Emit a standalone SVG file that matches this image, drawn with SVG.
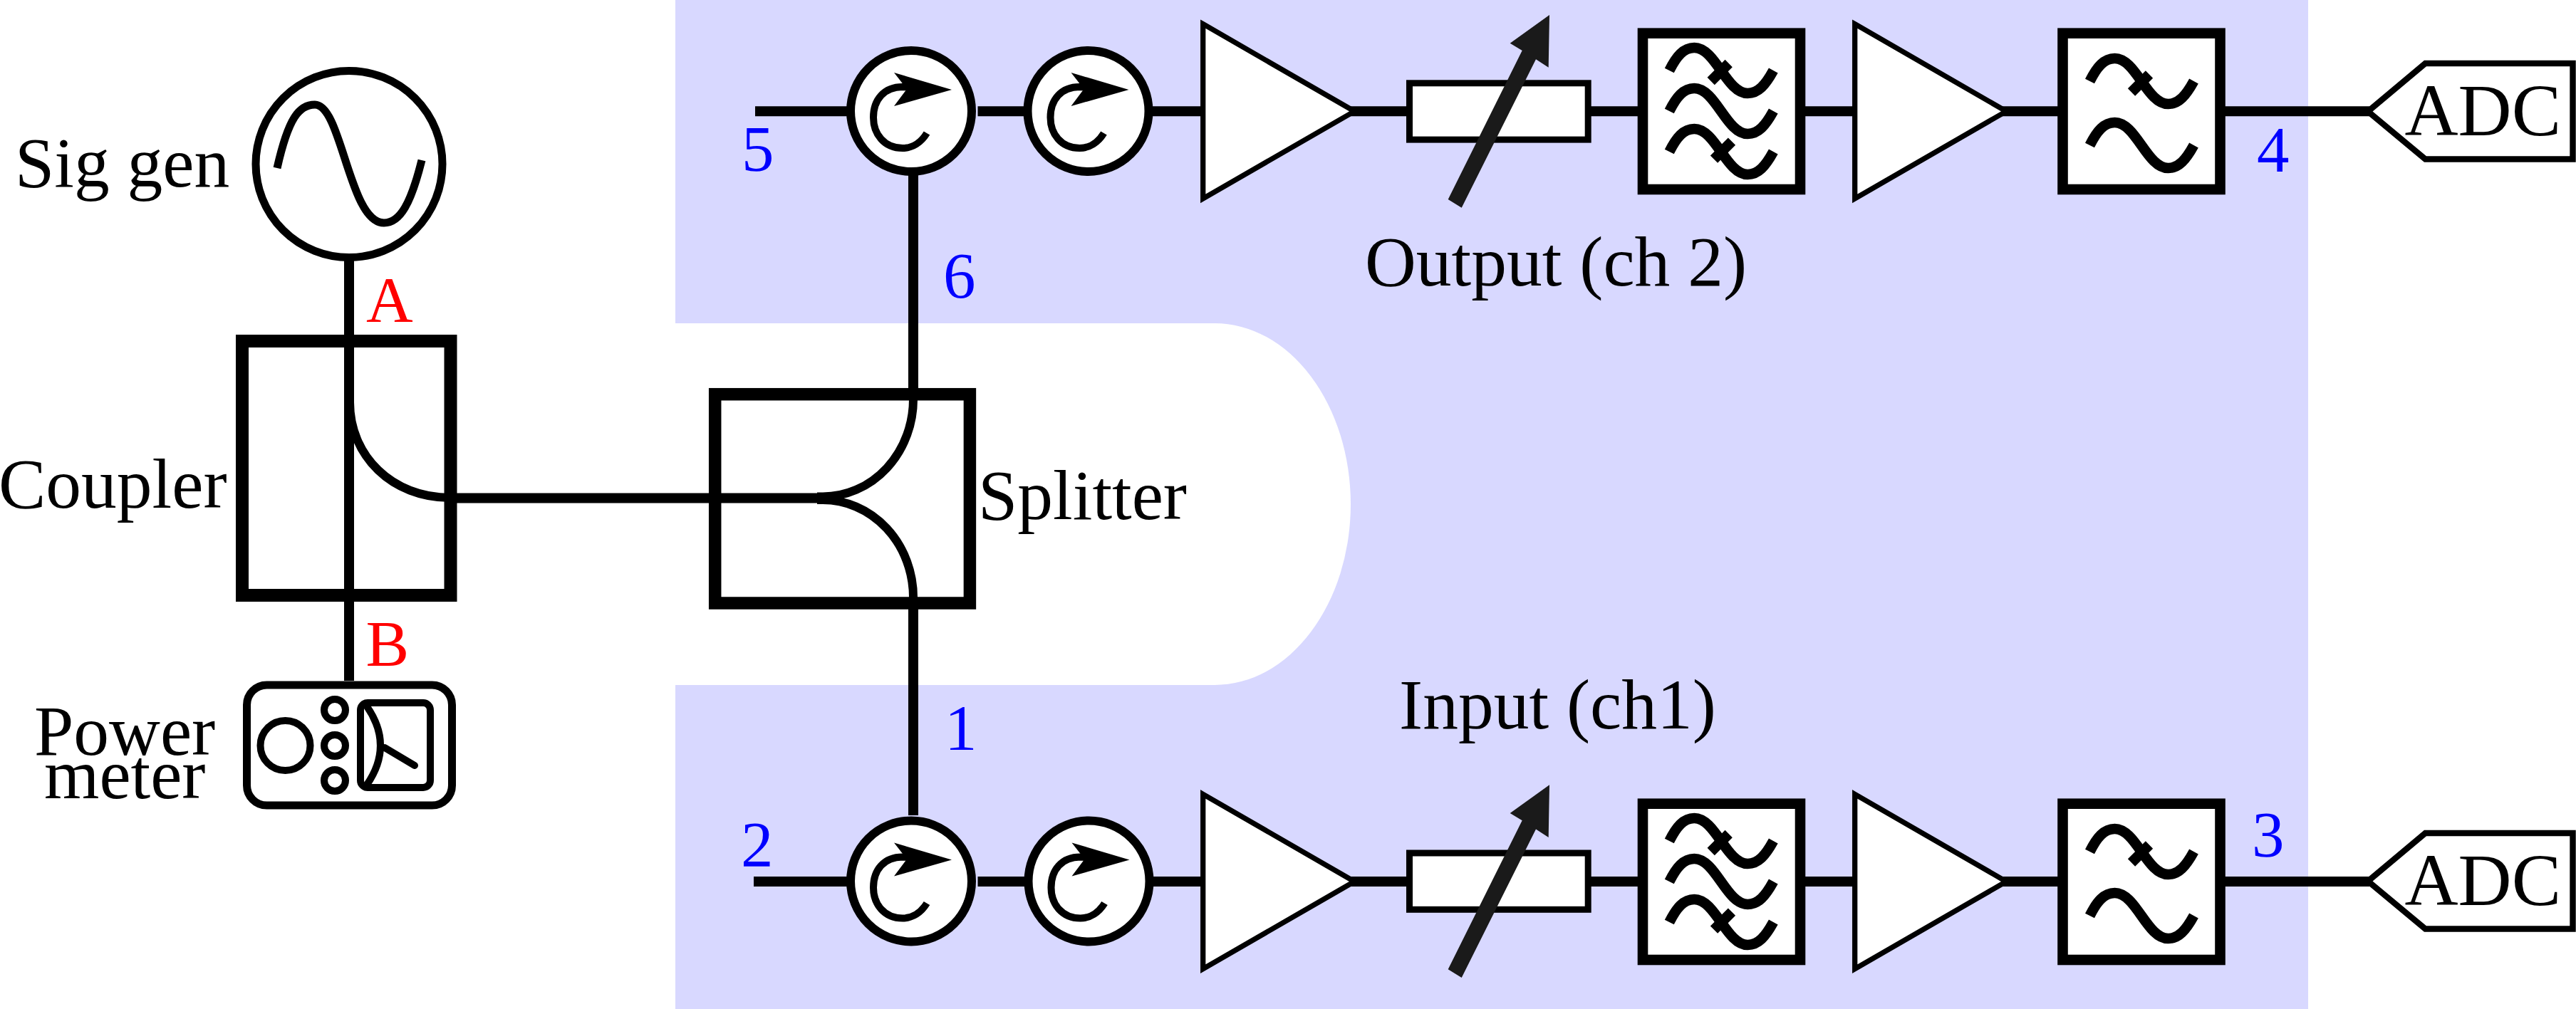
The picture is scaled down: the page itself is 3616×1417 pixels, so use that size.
<svg xmlns="http://www.w3.org/2000/svg" xmlns:xlink="http://www.w3.org/1999/xlink" width="3616" height="1417" viewBox="0 0 3616 1417">
<style>
text{font-family:"Liberation Serif","Times New Roman",serif}
.lbl{font-size:99.5px;fill:#000}
.red{font-size:91px;fill:#f00}
.blue{font-size:91px;fill:#00f}
.wire{fill:none;stroke:#000;stroke-width:14}
.curve{fill:none;stroke:#000;stroke-width:12}
.box{fill:#fff;stroke:#000}
.hollow{fill:none;stroke:#000}
.sine{fill:none;stroke:#000;stroke-width:14.5}
</style>
<defs>
<g id="circ">
<circle r="85" class="box" stroke-width="12"/>
<path d="M22 31C14 44 2 52-12 52C-38 52-53 32-53 9C-53-16-38-34-12-34L2-33" fill="none" stroke="#000" stroke-width="10"/>
<polygon points="57,-30 -24,-54 -6,-31 -24,-7"/>
</g>
<polygon id="amp" points="0,-122.6 212.6,0 0,122.6" class="box" stroke-width="7.3" stroke-miterlimit="10"/>
<g id="atten">
<rect x="4.5" y="-39.5" width="250.7" height="79.3" class="box" stroke-width="9"/>
<polygon fill="#1a1a1a" points="201,-135.3 145.7,-95.6 162.7,-85.3 58.7,123.7 77.7,135.4 182,-73 199.7,-61.6"/>
</g>
<path id="sine" class="sine" d="M0 0C10-20 20-32 35-32C65-32 80 32 110 32C125 32 135 20 146 0"/>
<g id="filter3">
<rect x="7" y="-109.3" width="221" height="219.3" class="box" stroke-width="14.6"/>
<use href="#sine" x="44.3" y="-57"/><use href="#sine" x="44.3" y="0"/><use href="#sine" x="44.3" y="57"/>
<path d="M127.7-67L102.7-42M132 42.7L107 67.7" class="sine"/>
</g>
<g id="filter2">
<rect x="7" y="-109.3" width="221" height="219.3" class="box" stroke-width="14.6"/>
<use href="#sine" x="45" y="-42"/><use href="#sine" x="45" y="48"/>
<path d="M128.5-51.5L103.5-26.5" class="sine"/>
</g>
<polygon id="adc" points="3324,156.5 3404.5,89 3611.5,89 3611.5,223.5 3404.5,223.5" class="box" stroke-width="8.4" stroke-miterlimit="10"/>
</defs>
<rect width="3616" height="1417" fill="#fff"/>
<path id="background" fill="#d8d8ff" d="M948 0H3240V1417H948V962H1705A191 254 0 0 0 1705 454H948Z"/>
<g id="connectors">
<path class="wire" d="M490 360V956M641 699.5H1147M1147 699.5H1160"/>
<path class="wire" d="M1282 240V552M1282 850V1145"/>
<path class="wire" d="M1060 156.3H1200M1372.5 156.3H1450M1600 156.3H1690M1890 156.3H1980M2230 156.3H2300M2530 156.3H2605M2805 156.3H2890M3120 156.3H3326"/>
<path class="wire" d="M1058 1238H1200M1372.5 1238H1450M1600 1238H1690M1890 1238H1980M2230 1238H2300M2530 1238H2605M2805 1238H2890M3120 1238H3326"/>
</g>
<g id="sig-gen">
<circle cx="490" cy="230.5" r="131" fill="#fff" stroke="#000" stroke-width="11"/>
<path d="M389 236C405 165 420 147 442 147C480 147 490 313 539 313C562 313 577 285 592 225" fill="none" stroke="#000" stroke-width="11"/>
<text class="lbl" x="21" y="262">Sig gen</text>
<text class="red" x="514" y="452">A</text>
</g>
<g id="coupler">
<rect x="340" y="479" width="292.5" height="357" class="hollow" stroke-width="18"/>
<path class="curve" d="M491 565C491 640 550 699 632 699"/>
<text class="lbl" x="-2" y="713">Coupler</text>
</g>
<g id="power-meter">
<rect x="346.5" y="962" width="288" height="169" rx="28" class="hollow" stroke-width="11"/>
<circle cx="400.5" cy="1047" r="35" class="hollow" stroke-width="10"/>
<circle cx="470" cy="997" r="15" class="hollow" stroke-width="10"/>
<circle cx="470" cy="1047" r="15" class="hollow" stroke-width="10"/>
<circle cx="470" cy="1096" r="15" class="hollow" stroke-width="10"/>
<rect x="506" y="987" width="98" height="119" rx="10" class="hollow" stroke-width="10"/>
<path d="M515 992Q553 1047 515 1102M540 1050L582 1075" class="hollow" stroke-width="10" stroke-linecap="round"/>
<text class="lbl" x="48" y="1060">Power</text>
<text class="lbl" x="62" y="1121">meter</text>
<text class="red" x="513.5" y="935">B</text>
</g>
<g id="splitter">
<rect x="1003.7" y="553.7" width="357.7" height="293.3" class="hollow" stroke-width="17.5"/>
<path class="curve" d="M1147 697.5H1155A127 137 0 0 0 1282 560M1147 702H1155A127 137 0 0 1 1282 839"/>
<text class="lbl" x="1373" y="729">Splitter</text>
</g>
<g id="output-chain">
<use href="#circ" x="1279" y="156"/>
<use href="#circ" x="1527.5" y="156"/>
<use href="#amp" x="1688.7" y="156.3"/>
<use href="#atten" x="1974" y="156.3"/>
<use href="#filter3" x="2299" y="156"/>
<use href="#amp" x="2603.7" y="156.3"/>
<use href="#filter2" x="2888.5" y="156"/>
<use href="#adc"/>
<text class="lbl" x="3375.5" y="190" style="font-size:104px">ADC</text>
<text class="lbl" x="1916" y="401">Output (ch 2)</text>
<text class="blue" x="1041" y="240">5</text>
<text class="blue" x="1324" y="418">6</text>
<text class="blue" x="3168" y="241">4</text>
</g>
<g id="input-chain">
<use href="#circ" x="1279" y="1237.5"/>
<use href="#circ" x="1528.5" y="1237.5"/>
<use href="#amp" x="1688.7" y="1238"/>
<use href="#atten" x="1974" y="1237.5"/>
<use href="#filter3" x="2299" y="1238"/>
<use href="#amp" x="2603.7" y="1238"/>
<use href="#filter2" x="2888.5" y="1238"/>
<use href="#adc" y="1081"/>
<text class="lbl" x="3375.5" y="1271" style="font-size:104px">ADC</text>
<text class="lbl" x="1964" y="1023">Input (ch1)</text>
<text class="blue" x="1326" y="1053">1</text>
<text class="blue" x="1040" y="1217">2</text>
<text class="blue" x="3161" y="1203">3</text>
</g>
</svg>
